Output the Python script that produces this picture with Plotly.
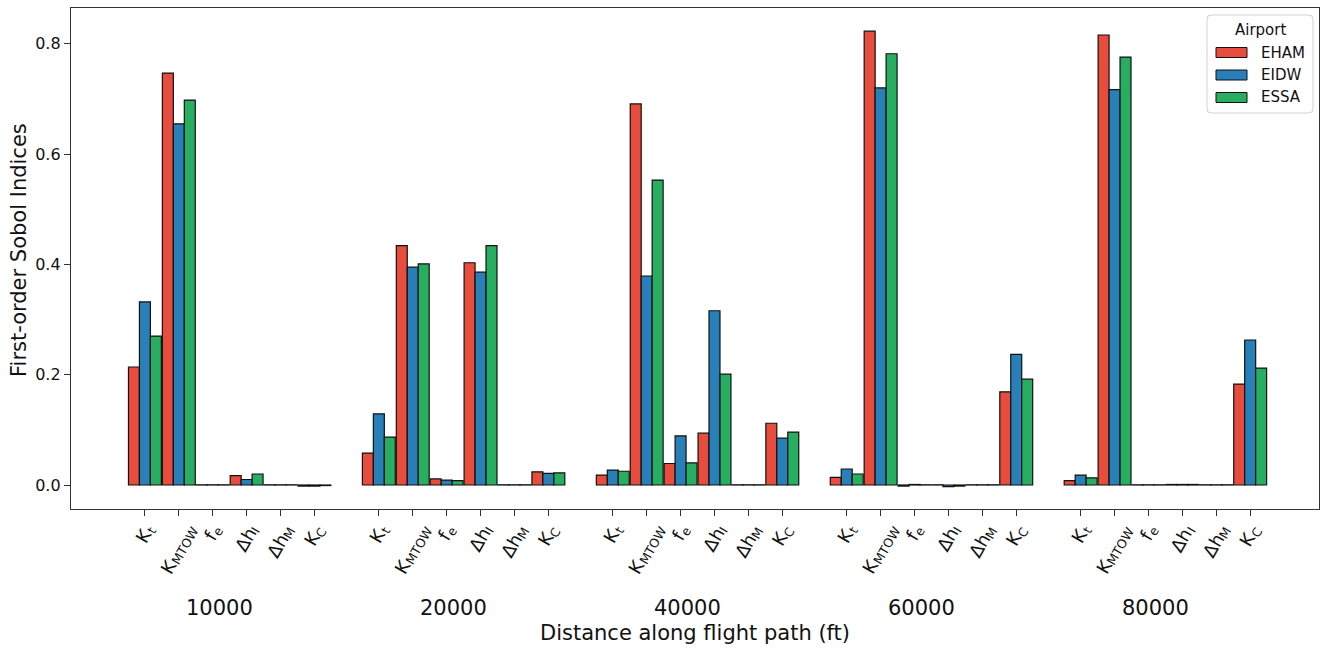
import math
import plotly.graph_objects as go

# ---------------- data ----------------
distances = ["10000", "20000", "40000", "60000", "80000"]
param_main = ["K", "K", "f", "Δh", "Δh", "K"]
param_sub = ["t", "MTOW", "e", "I", "M", "C"]
airports = ["EHAM", "EIDW", "ESSA"]

# values per distance group, order of params: Kt, KMTOW, fe, dhI, dhM, KC
eham = [
    0.214, 0.747, 0.0004, 0.017, 0.0004, -0.002,   # 10000
    0.058, 0.434, 0.011, 0.403, 0.0004, 0.024,     # 20000
    0.018, 0.691, 0.039, 0.094, 0.0004, 0.112,     # 40000
    0.014, 0.823, -0.002, 0.0004, 0.0004, 0.169,   # 60000
    0.008, 0.816, 0.0004, 0.001, 0.0004, 0.183,    # 80000
]
eidw = [
    0.332, 0.655, 0.0004, 0.010, 0.0004, -0.002,
    0.129, 0.395, 0.009, 0.386, 0.0004, 0.021,
    0.027, 0.379, 0.089, 0.316, 0.0004, 0.085,
    0.029, 0.720, 0.001, -0.003, 0.0004, 0.237,
    0.018, 0.717, 0.0004, 0.001, 0.0004, 0.263,
]
essa = [
    0.270, 0.698, 0.0004, 0.020, 0.0004, -0.001,
    0.087, 0.401, 0.008, 0.434, 0.0004, 0.022,
    0.025, 0.553, 0.040, 0.201, 0.0004, 0.096,
    0.020, 0.782, 0.0004, -0.002, 0.0004, 0.192,
    0.013, 0.776, 0.0004, 0.001, 0.0004, 0.212,
]
colors = ["#e74c3c", "#2980b9", "#27ae60"]

# ---------------- layout helpers ----------------
W, H = 1325, 648
ML, MR, MT, MB = 71, 6, 8, 139
PW, PH = W - ML - MR, H - MT - MB
GROUP_PITCH = 6.9
XR = [-2.18, 34.63]
FONT = "DejaVu Sans"
INK = "#111111"


def px_x(X):
    return (X - ML) / PW


def px_y(Y):
    return (MT + PH - Y) / PH


xpos = []
for g in range(len(distances)):
    for p in range(len(param_main)):
        xpos.append(g * GROUP_PITCH + p)

fig = go.Figure()
for name, vals, col in zip(airports, [eham, eidw, essa], colors):
    fig.add_trace(go.Bar(
        x=xpos, y=vals, name=name, showlegend=False,
        marker=dict(color=col, line=dict(color=INK, width=1.2)),
    ))

annotations = []
shapes = []

# rotated parameter tick labels built from main text + smaller subscript
EM = {"K": .656, "t": .392, "M": .863, "T": .611, "O": .787, "W": .989,
      "f": .352, "e": .615, "Δ": .684, "h": .634, "I": .295, "C": .698}
FS_MAIN, FS_SUB = 18, 12.5
ANG = 60
ca, sa = math.cos(math.radians(ANG)), math.sin(math.radians(ANG))
HC = 13
DROP = 4
for i, xv in enumerate(xpos):
    p = i % len(param_main)
    main, sub = param_main[p], param_sub[p]
    w1 = sum(EM[c] for c in main) * FS_MAIN
    w2 = sum(EM[c] for c in sub) * FS_SUB
    L = w1 + w2
    bh = L * sa + HC * ca
    cy = 14 + bh / 2
    s1 = -L / 2 + w1 / 2
    s2 = -L / 2 + w1 + w2 / 2
    dx1, dy1 = s1 * ca, cy - s1 * sa
    dx2, dy2 = s2 * ca + DROP * sa, cy - s2 * sa + DROP * ca
    for txt, fs, dx, dy in [(main, FS_MAIN, dx1, dy1), (sub, FS_SUB, dx2, dy2)]:
        annotations.append(dict(
            x=xv, y=0, xref="x", yref="paper", text=txt, showarrow=False,
            textangle=-ANG, xanchor="center", yanchor="middle",
            xshift=dx, yshift=-dy, borderpad=0,
            font=dict(size=fs, color=INK, family=FONT),
        ))

for g, d in enumerate(distances):
    annotations.append(dict(
        x=g * GROUP_PITCH + 2.2, y=px_y(608), xref="x", yref="paper",
        text=d, showarrow=False, xanchor="center", yanchor="middle",
        font=dict(size=21, color=INK, family=FONT),
    ))
annotations.append(dict(
    x=0.5, y=px_y(633), xref="paper", yref="paper",
    text="Distance along flight path (ft)", showarrow=False,
    xanchor="center", yanchor="middle",
    font=dict(size=21, color=INK, family=FONT),
))
annotations.append(dict(
    x=px_x(19), y=px_y(250), xref="paper", yref="paper",
    text="First-order Sobol Indices", showarrow=False, textangle=-90,
    xanchor="center", yanchor="middle",
    font=dict(size=21, color=INK, family=FONT),
))

# legend drawn as a box with patches (matplotlib style)
bx0, bx1, by0, by1 = 1207, 1313, 15, 113
r = 4
rx, ry = r / PW, r / PH
X0, X1, Y0, Y1 = px_x(bx0), px_x(bx1), px_y(by1), px_y(by0)
path = (f"M {X0+rx},{Y0} L {X1-rx},{Y0} Q {X1},{Y0} {X1},{Y0+ry} "
        f"L {X1},{Y1-ry} Q {X1},{Y1} {X1-rx},{Y1} L {X0+rx},{Y1} "
        f"Q {X0},{Y1} {X0},{Y1-ry} L {X0},{Y0+ry} Q {X0},{Y0} {X0+rx},{Y0} Z")
shapes.append(dict(type="path", path=path, xref="paper", yref="paper",
                   fillcolor="rgba(255,255,255,0.8)",
                   line=dict(color="#d0d0d0", width=1), layer="above"))
annotations.append(dict(
    x=px_x((bx0 + bx1) / 2), y=px_y(30), xref="paper", yref="paper",
    text="Airport", showarrow=False, xanchor="center", yanchor="middle",
    font=dict(size=15, color=INK, family=FONT),
))
for k, (name, col) in enumerate(zip(airports, colors)):
    yc = 52.5 + 22.5 * k
    shapes.append(dict(type="rect", xref="paper", yref="paper",
                       x0=px_x(1216), x1=px_x(1247),
                       y0=px_y(yc + 5), y1=px_y(yc - 5),
                       fillcolor=col, line=dict(color=INK, width=1),
                       layer="above"))
    annotations.append(dict(
        x=px_x(1259), y=px_y(yc), xref="paper", yref="paper",
        text=name, showarrow=False, xanchor="left", yanchor="middle",
        font=dict(size=15, color=INK, family=FONT),
    ))

fig.update_layout(
    width=W, height=H,
    margin=dict(l=ML, r=MR, t=MT, b=MB),
    paper_bgcolor="white", plot_bgcolor="white",
    barmode="group", bargap=0.03, bargroupgap=0,
    font=dict(family=FONT, color=INK),
    annotations=annotations, shapes=shapes, showlegend=False,
    xaxis=dict(
        range=XR,
        tickmode="array", tickvals=xpos, showticklabels=False,
        ticks="outside", ticklen=6, tickcolor="#333333",
        showline=True, linecolor="#333333", linewidth=1.3, mirror=True,
        showgrid=False, zeroline=False,
    ),
    yaxis=dict(
        range=[-0.0435, 0.865],
        tickmode="array", tickvals=[0, 0.2, 0.4, 0.6, 0.8],
        ticktext=["0.0", "0.2", "0.4", "0.6", "0.8"],
        tickfont=dict(size=16, color=INK),
        ticks="outside", ticklen=6, tickcolor="#333333",
        showline=True, linecolor="#333333", linewidth=1.3, mirror=True,
        showgrid=False, zeroline=False,
    ),
)

fig.write_html("out.html", config={"displayModeBar": False},
               post_script="document.body.style.margin='0';")
